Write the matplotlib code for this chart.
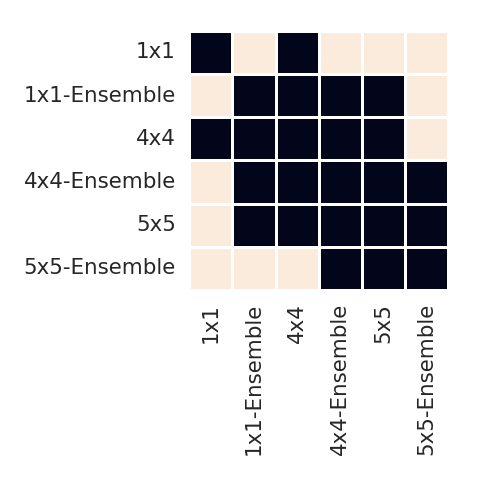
import numpy as np
import matplotlib
matplotlib.use("Agg")
import matplotlib.pyplot as plt
import seaborn as sns

labels = ["1x1", "1x1-Ensemble", "4x4", "4x4-Ensemble", "5x5", "5x5-Ensemble"]

# 0 = dark cell, 1 = light cell
row_1x1 = [0, 1, 0, 1, 1, 1]
row_1x1_ens = [1, 0, 0, 0, 0, 1]
row_4x4 = [0, 0, 0, 0, 0, 1]
row_4x4_ens = [1, 0, 0, 0, 0, 0]
row_5x5 = [1, 0, 0, 0, 0, 0]
row_5x5_ens = [1, 1, 1, 0, 0, 0]

matrix = np.array([row_1x1, row_1x1_ens, row_4x4, row_4x4_ens, row_5x5, row_5x5_ens])

sns.set_theme(style="white", font_scale=1.4)
fig = plt.figure(figsize=(4.8, 4.8), dpi=100)
ax = fig.add_axes([0.394, 0.396, 0.54, 0.54])
sns.heatmap(matrix, ax=ax, cmap="rocket", cbar=False, linewidths=0.8, linecolor="white",
            xticklabels=labels, yticklabels=labels, square=True)
plt.setp(ax.get_xticklabels(), rotation=90)
plt.setp(ax.get_yticklabels(), rotation=0)
fig.savefig("out.png", dpi=100)
